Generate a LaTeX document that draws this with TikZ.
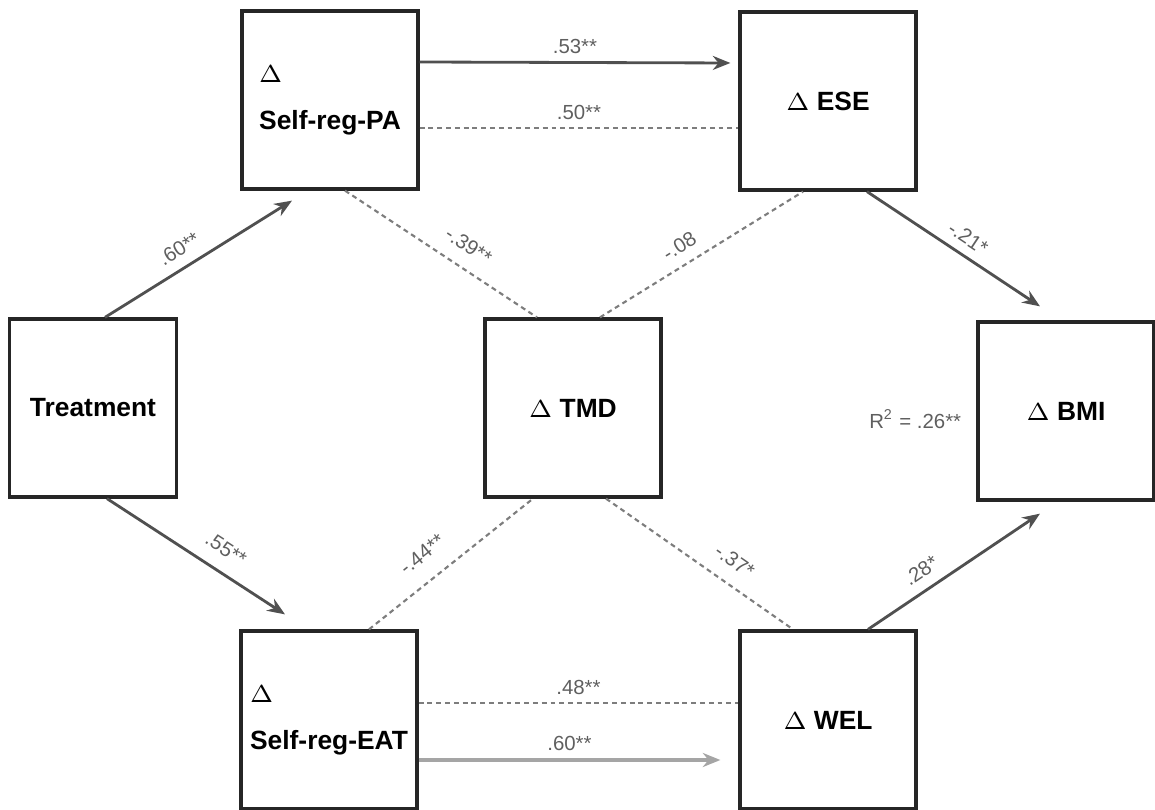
\documentclass[tikz,border=0pt]{standalone}
\usepackage{fontspec}
\setmainfont{Liberation Sans}
\usetikzlibrary{arrows.meta, calc}
\definecolor{pathgray}{RGB}{80,80,80}
\definecolor{dashgray}{RGB}{125,125,125}
\definecolor{lightpath}{RGB}{165,165,165}
\definecolor{labgray}{RGB}{95,95,95}

\begin{document}
\begin{tikzpicture}[x=0.01cm, y=-0.01cm,
  var/.style={rectangle, draw=black!85, line width=0.9pt, minimum width=1.76cm,
              minimum height=1.78cm, inner sep=0pt, align=left,
              font=\fontsize{7.5}{13.4}\selectfont\bfseries},
  arr/.style={-{Stealth[length=5pt,width=4pt]}, line width=0.8pt, draw=pathgray},
  cov/.style={dash pattern=on 1.4pt off 1.1pt, line width=0.6pt, draw=dashgray},
  coef/.style={font=\fontsize{5.8}{7}\selectfont, text=labgray, inner sep=1pt}
]
\useasboundingbox (0,0) rectangle (1155,810);

\node[var] (pa) at (330,100) {$\Delta$\\Self-reg-PA};
\node[var] (ese) at (828,101) {$\Delta$ ESE};
\node[var, minimum width=1.67cm] (treat) at (93,408) {Treatment};
\node[var] (tmd) at (573,408) {$\Delta$ TMD};
\node[var] (bmi) at (1066,411) {$\Delta$ BMI};
\node[var] (eat) at (329,720) {$\Delta$\\Self-reg-EAT};
\node[var] (wel) at (828,720) {$\Delta$ WEL};
\node[coef, anchor=east] (rsq) at ($(bmi.west)+(-11,8)$) {R\textsuperscript{2} = .26**};

\draw[arr] ($(treat.north)+(12,0)$) -- node[coef, sloped, above=2pt, pos=0.45] {.60**} ($(pa.south)+(-38,10)$);
\draw[arr] ($(treat.south)+(14,0)$) -- node[coef, sloped, above=3pt, pos=0.6] {.55**} ($(eat.north)+(-44,-15)$);
\draw[cov] ($(pa.south)+(15,0)$) -- node[coef, sloped, above=3pt, pos=0.58] {-.39**} ($(tmd.north)+(-36,0)$);
\draw[cov] ($(tmd.north)+(27,0)$) -- node[coef, sloped, above=2pt, pos=0.44] {-.08} ($(ese.south)+(-25,0)$);
\draw[arr] ($(ese.south)+(39,0)$) -- node[coef, sloped, above=1.5pt, pos=0.53] {-.21*} ($(bmi.north)+(-26,-14)$);
\draw[cov] ($(eat.north)+(40,0)$) -- node[coef, sloped, above=4pt, pos=0.42] {-.44**} ($(tmd.south)+(-40,0)$);
\draw[cov] ($(tmd.south)+(33,0)$) -- node[coef, sloped, above=3pt, pos=0.62] {-.37*} ($(wel.north)+(-35,0)$);
\draw[arr] ($(wel.north)+(40,0)$) -- node[coef, sloped, above=2pt, pos=0.37] {.28*} ($(bmi.south)+(-26,12)$);

\draw[arr] ($(pa.east)+(0,-38)$) -- node[coef, above=1pt] {.53**} ($(ese.west)+(-8,-38)$);
\draw[cov] ($(pa.east)+(0,28)$) -- node[coef, above=1pt] {.50**} ($(ese.west)+(0,27)$);
\draw[cov] ($(eat.east)+(0,-17)$) -- node[coef, above=1pt] {.48**} ($(wel.west)+(0,-17)$);
\draw[arr, draw=lightpath, line width=1.1pt] ($(eat.east)+(0,40)$) -- node[coef, above=1pt] {.60**} ($(wel.west)+(-18,40)$);
\end{tikzpicture}
\end{document}
